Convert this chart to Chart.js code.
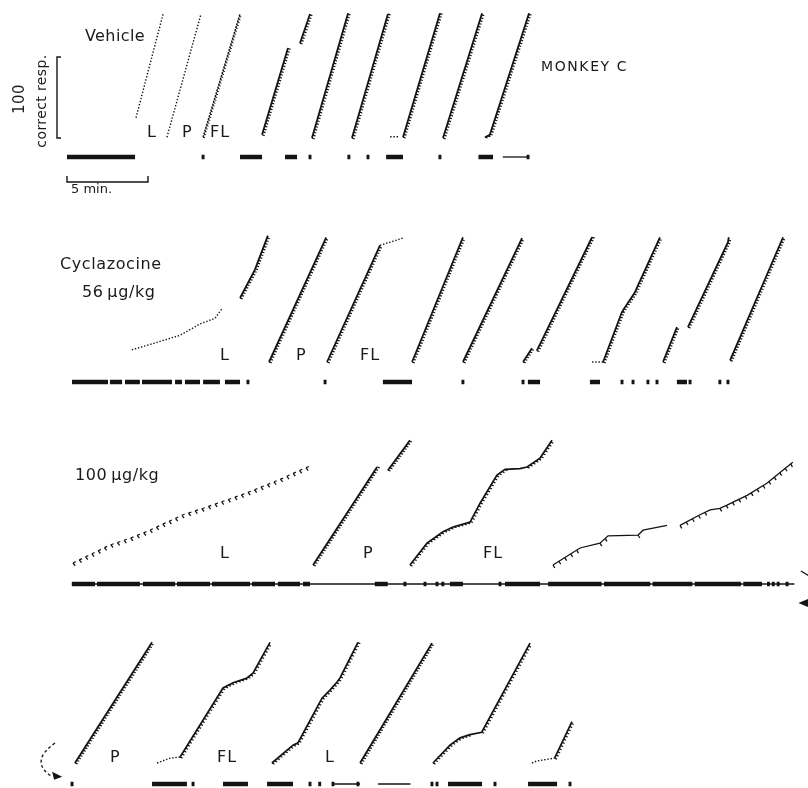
<!DOCTYPE html>
<html>
<head>
<meta charset="utf-8">
<script src="https://cdn.jsdelivr.net/npm/chart.js@4.4.1/dist/chart.umd.min.js"></script>
<style>
  html, body { margin: 0; padding: 0; background: #fff; }
  #wrap { position: relative; width: 808px; height: 788px; overflow: hidden; }
  #rec { position: absolute; left: 0; top: 0; }
  .lbl { position: absolute; font-family: "DejaVu Sans", sans-serif; color: #1a1a1a;
         white-space: nowrap; transform: translateY(-50%); line-height: 1; }
  .rot { position: absolute; font-family: "DejaVu Sans", sans-serif; color: #1a1a1a;
         white-space: nowrap; line-height: 1; transform: translate(-50%, -50%) rotate(-90deg); }
</style>
</head>
<body>
<div id="wrap">
  <canvas id="rec" width="808" height="788"></canvas>
</div>
<script>
// Cumulative records, Monkey C: time in minutes, count in correct responses
// (pen resets to zero at the top of the paper).

// ---- Vehicle ----
const vehicleCurves = [
  [[4.26, 25], [5.93, 153]],
  [[6.17, 1], [8.27, 153]],
  [[8.40, 1], [10.68, 153]],
  [[12.04, 4], [13.64, 111]],
  [[14.38, 117], [15.0, 153]],
  [[15.12, 0], [17.35, 154]],
  [[17.59, 0], [19.81, 153]],
  [[19.95, 1.5], [20.5, 1.5]],
  [[20.74, 1], [23.02, 154]],
  [[23.21, 0], [25.62, 154]],
  [[25.80, 1], [26.1, 4], [28.52, 154]]
];
const vehicleStyles = ['dot', 'dot', 'dense', 'rec', 'rec', 'rec', 'rec', 'dot', 'rec', 'rec', 'rec'];
const vehicleEventBars = [[0, 4.2], [10.68, 12.04], [13.46, 14.2], [19.7, 20.74], [25.4, 26.3]];
const vehicleEventTicks = [8.4, 15.0, 17.4, 18.58, 23.02, 28.46];
const vehicleEventLines = [[26.9, 28.46]];

// ---- Cyclazocine 56 µg/kg ----
const cyc56Curves = [
  [[4.0, 15], [5.43, 23.5], [6.98, 33], [8.21, 47], [9.14, 54], [9.57, 66]],
  [[10.68, 79], [11.6, 114], [12.4, 156]],
  [[12.47, 0], [16.0, 154]],
  [[16.05, 0], [19.32, 144]],
  [[19.32, 144], [20.37, 150.6], [20.74, 153]],
  [[21.3, 0], [24.44, 154]],
  [[24.44, 0], [28.09, 153]],
  [[28.15, 0], [28.7, 17]],
  [[29.0, 14], [29.2, 22], [32.41, 154]],
  [[32.41, 0], [33.09, 0]],
  [[33.09, 0], [34.26, 62], [34.32, 64], [35.06, 86], [35.19, 92], [36.6, 154]],
  [[36.79, 0], [37.65, 43]],
  [[38.33, 43], [40.8, 148], [40.85, 154]],
  [[40.93, 2], [44.2, 154]]
];
const cyc56Styles = ['dot', 'rec', 'rec', 'rec', 'dot', 'rec', 'rec', 'rec', 'rec', 'dot', 'rec', 'rec', 'rec', 'rec'];
const cyc56EventBars = [[0.31, 2.53], [2.65, 3.4], [3.58, 4.5], [4.63, 6.48], [6.67, 7.1], [7.28, 8.21],
  [8.4, 9.44], [9.75, 10.68], [19.5, 21.3], [28.45, 29.2], [32.28, 32.9], [37.65, 38.27]];
const cyc56EventTicks = [11.17, 15.93, 24.44, 28.15, 34.26, 34.94, 35.86, 36.42, 38.46, 40.3, 40.8];
const cyc56EventLines = [];

// ---- Cyclazocine 100 µg/kg ----
const cyc100Curves = [
  [[0.37, 2.5], [2.65, 24.7], [3.89, 33], [5.12, 43], [7.16, 62], [8.4, 70], [10.25, 83],
   [11.1, 89], [13.3, 107], [14.38, 117], [15.12, 123]],
  [[15.19, 0], [19.14, 121]],
  [[19.81, 117], [21.17, 154]],
  [[21.17, 0], [22.22, 27], [23.21, 41], [23.83, 47], [24.88, 53], [25.49, 76], [26.54, 111],
   [27.04, 118], [27.96, 119], [28.4, 121], [29.2, 132], [29.94, 154]],
  [[30.0, 0], [31.67, 21], [32.9, 27], [33.4, 36], [35.25, 37], [35.56, 43], [37.04, 49]],
  [[37.84, 49], [39.07, 62], [39.7, 68], [40.3, 70], [40.74, 74], [41.98, 86], [43.2, 101], [44.8, 127]]
];
const cyc100Styles = ['sparse', 'rec', 'rec', 'step', 'slow', 'slow'];
const cyc100EventBars = [[0.3, 1.73], [1.85, 4.5], [4.69, 6.67], [6.79, 8.83], [8.95, 11.3], [11.42, 12.84],
  [13.02, 14.38], [14.57, 15.0], [19.0, 19.8], [23.64, 24.44], [27.04, 29.2],
  [29.7, 33.0], [33.15, 36.0], [36.15, 38.6], [38.75, 41.6], [41.75, 42.9]];
const cyc100EventTicks = [20.86, 22.1, 22.84, 23.2, 26.73, 43.3, 43.6, 43.9, 44.45];
const cyc100EventLines = [[0.3, 44.9]];

// ---- Cyclazocine 100 µg/kg, continued ----
const contCurves = [
  [[0.49, 0], [5.25, 149]],
  [[5.56, 0], [6.36, 6], [6.98, 7.4]],
  [[6.98, 7.4], [9.63, 92.6], [10.25, 99], [11.11, 105], [11.48, 111], [12.53, 149]],
  [[12.65, 0], [13.95, 22], [14.26, 25], [15.74, 80], [16.23, 90], [16.67, 100], [16.85, 105], [17.96, 149]],
  [[18.09, 0], [22.53, 148]],
  [[22.59, 0], [23.64, 22], [24.26, 31], [24.88, 35], [25.6, 38], [28.58, 148]],
  [[28.7, 0], [29.0, 2.5], [30.1, 6]],
  [[30.1, 6], [31.17, 51]]
];
const contStyles = ['rec', 'dot', 'step', 'step', 'rec', 'step', 'dot', 'step'];
const contEventBars = [[5.25, 7.4], [9.63, 11.17], [12.35, 13.95], [23.52, 25.62], [28.46, 30.25]];
const contEventTicks = [0.31, 7.78, 15.0, 15.6, 16.42, 17.96, 22.53, 22.84, 26.42, 31.05];
const contEventLines = [[16.42, 18.09], [19.2, 21.2]];

// Scale bars
const scaleMinutes = 5;
const scaleResponses = 100;

// ---- layout ----
const W = 808, H = 788;
const PX_PER_MIN = 16.2, PX_PER_RESP = 0.81, ORIGIN_X = 67;
const rowLayout = [
  { base: 138, drop: 19 },
  { base: 362, drop: 20 },
  { base: 565, drop: 19 },
  { base: 763, drop: 21 }
];
const rows = [
  { curves: vehicleCurves, styles: vehicleStyles, bars: vehicleEventBars, ticks: vehicleEventTicks, lines: vehicleEventLines },
  { curves: cyc56Curves, styles: cyc56Styles, bars: cyc56EventBars, ticks: cyc56EventTicks, lines: cyc56EventLines },
  { curves: cyc100Curves, styles: cyc100Styles, bars: cyc100EventBars, ticks: cyc100EventTicks, lines: cyc100EventLines },
  { curves: contCurves, styles: contStyles, bars: contEventBars, ticks: contEventTicks, lines: contEventLines }
];
const rowOffset = r => (H - rowLayout[r].base) / PX_PER_RESP;
const eventLevel = r => rowOffset(r) - rowLayout[r].drop / PX_PER_RESP;

const INK = '#141414';
const curveLook = {
  dot:    { borderWidth: 1.4, borderDash: [1.4, 1.8], hatch: null },
  dense:  { borderWidth: 1.5, borderDash: [2, 1], hatch: { step: 3, dx: 2.0, dy: 0.5, w: 1 } },
  rec:    { borderWidth: 1.8, borderDash: [], hatch: { step: 3, dx: 2.7, dy: 0.8, w: 1.2 } },
  step:   { borderWidth: 1.7, borderDash: [], hatch: { step: 3.5, dx: 2.5, dy: 1.1, w: 1.2 } },
  sparse: { borderWidth: 1.2, borderDash: [3, 4], hatch: { step: 7, dx: 2.2, dy: 2.8, w: 1.3 } },
  slow:   { borderWidth: 1.3, borderDash: [], hatch: { step: 7, dx: 1.8, dy: 3.0, w: 1.3 } }
};

const datasets = [];
rows.forEach((row, r) => {
  const off = rowOffset(r);
  row.curves.forEach((c, i) => {
    const look = curveLook[row.styles[i]];
    datasets.push({
      data: c.map(([t, n]) => ({ x: t, y: n + off })),
      borderColor: INK, borderWidth: look.borderWidth, borderDash: look.borderDash,
      hatch: look.hatch, pointRadius: 0, showLine: true, tension: 0
    });
  });
  const ev = eventLevel(r);
  const segs = (list, half) => {
    const out = [];
    list.forEach(v => {
      const a = Array.isArray(v) ? v[0] : v - half;
      const b = Array.isArray(v) ? v[1] : v + half;
      out.push({ x: a, y: ev }, { x: b, y: ev }, { x: b, y: null });
    });
    return out;
  };
  if (row.lines.length) datasets.push({ data: segs(row.lines), borderColor: INK, borderWidth: 1.3,
    pointRadius: 0, showLine: true, spanGaps: false, borderCapStyle: 'butt' });
  datasets.push({ data: segs(row.bars), borderColor: INK, borderWidth: 4.5,
    pointRadius: 0, showLine: true, spanGaps: false, borderCapStyle: 'butt' });
  datasets.push({ data: segs(row.ticks, 0.09), borderColor: INK, borderWidth: 4.5,
    pointRadius: 0, showLine: true, spanGaps: false, borderCapStyle: 'butt' });
});

// 100-response bracket and 5-minute bar beside the first record
const br = -10 / PX_PER_MIN, brTick = 4 / PX_PER_MIN;
const off0 = rowOffset(0);
datasets.push({
  data: [{ x: br + brTick, y: off0 + scaleResponses }, { x: br, y: off0 + scaleResponses },
         { x: br, y: off0 }, { x: br + brTick, y: off0 }],
  borderColor: INK, borderWidth: 1.4, pointRadius: 0, showLine: true
});
const barY = off0 - 44 / PX_PER_RESP, barTick = 6 / PX_PER_RESP;
datasets.push({
  data: [{ x: 0, y: barY + barTick }, { x: 0, y: barY }, { x: scaleMinutes, y: barY }, { x: scaleMinutes, y: barY + barTick }],
  borderColor: INK, borderWidth: 1.4, pointRadius: 0, showLine: true
});

// reinforcement pips along the records
const hatchPlugin = {
  id: 'hatch',
  afterDatasetsDraw(chart) {
    const ctx = chart.ctx;
    chart.data.datasets.forEach((ds, i) => {
      if (!ds.hatch) return;
      const pts = chart.getDatasetMeta(i).data;
      const h = ds.hatch;
      ctx.save();
      ctx.strokeStyle = INK; ctx.lineWidth = h.w; ctx.setLineDash([]);
      let carry = 0;
      for (let k = 1; k < pts.length; k++) {
        const p0 = pts[k - 1], p1 = pts[k];
        const dx = p1.x - p0.x, dy = p1.y - p0.y;
        const len = Math.hypot(dx, dy);
        // pips only where the pen is climbing
        if (Math.abs(dy) < 0.25 * len) { carry = 0; continue; }
        let s = carry;
        ctx.beginPath();
        for (; s < len; s += h.step) {
          const x = p0.x + dx * s / len, y = p0.y + dy * s / len;
          ctx.moveTo(x, y); ctx.lineTo(x + h.dx, y + h.dy);
        }
        ctx.stroke();
        carry = s - len;
      }
      ctx.restore();
    });
  }
};

// continuation arrows between the third and fourth records
const arrowPlugin = {
  id: 'arrows',
  afterDatasetsDraw(chart) {
    const xs = chart.scales.x, ys = chart.scales.y, ctx = chart.ctx;
    const P = (r, t, n) => [xs.getPixelForValue(t), ys.getPixelForValue(n + rowOffset(r))];
    ctx.save();
    ctx.strokeStyle = INK; ctx.fillStyle = INK; ctx.lineWidth = 1.3;
    // off the right edge of the third record
    let a = P(2, 45.3, -7.4), b = P(2, 45.8, -13.5);
    ctx.beginPath(); ctx.moveTo(a[0], a[1]); ctx.lineTo(b[0], b[1]); ctx.stroke();
    let tip = P(2, 45.15, -47), back = P(2, 45.74, -47);
    ctx.beginPath(); ctx.moveTo(tip[0], tip[1]); ctx.lineTo(back[0], back[1] - 4); ctx.lineTo(back[0], back[1] + 4); ctx.closePath(); ctx.fill();
    // back in at the start of the fourth record
    const s = P(3, -0.74, 24.7), m = P(3, -1.5, 4), e = P(3, -0.3, -17);
    ctx.setLineDash([3, 2.5]);
    ctx.beginPath(); ctx.moveTo(s[0], s[1]);
    ctx.quadraticCurveTo(m[0] - 14, m[1] + 2, e[0] - 10, e[1]);
    ctx.stroke();
    ctx.setLineDash([]);
    ctx.beginPath(); ctx.moveTo(e[0], e[1]); ctx.lineTo(e[0] - 10, e[1] - 5); ctx.lineTo(e[0] - 8, e[1] + 3); ctx.closePath(); ctx.fill();
    ctx.restore();
  }
};

new Chart(document.getElementById('rec'), {
  type: 'scatter',
  data: { datasets },
  options: {
    responsive: false, animation: false, events: [],
    layout: { padding: 0, autoPadding: false },
    plugins: { legend: { display: false }, tooltip: { enabled: false } },
    scales: {
      x: { type: 'linear', display: false, min: -ORIGIN_X / PX_PER_MIN, max: (W - ORIGIN_X) / PX_PER_MIN },
      y: { type: 'linear', display: false, min: 0, max: H / PX_PER_RESP }
    }
  },
  plugins: [hatchPlugin, arrowPlugin]
});

// labels
const labels = [
  ['Vehicle', 85, 36, 16, 0.4],
  ['L', 147, 132, 16, 0], ['P', 182, 132, 16, 0], ['FL', 210, 132, 16, 1],
  ['MONKEY C', 541, 66, 14, 1.6],
  ['5 min.', 71, 188, 13, 0],
  ['Cyclazocine', 60, 264, 16, 0.6],
  ['56\u2009\u03bcg/kg', 82, 292, 16, 0.6],
  ['L', 220, 355, 16, 0], ['P', 296, 355, 16, 0], ['FL', 360, 355, 16, 1],
  ['100\u2009\u03bcg/kg', 75, 475, 16, 0.6],
  ['L', 220, 553, 16, 0], ['P', 363, 553, 16, 0], ['FL', 483, 553, 16, 1],
  ['P', 110, 757, 16, 0], ['FL', 217, 757, 16, 1], ['L', 325, 757, 16, 0]
];
const wrap = document.getElementById('wrap');
labels.forEach(([txt, x, y, size, ls]) => {
  const d = document.createElement('div');
  d.className = 'lbl';
  d.textContent = txt;
  d.style.left = x + 'px'; d.style.top = y + 'px';
  d.style.fontSize = size + 'px'; d.style.letterSpacing = ls + 'px';
  wrap.appendChild(d);
});
[['100', 19, 99, 15, 0.5], ['correct resp.', 41, 101, 14, 0.4]].forEach(([txt, x, y, size, ls]) => {
  const d = document.createElement('div');
  d.className = 'rot';
  d.textContent = txt;
  d.style.left = x + 'px'; d.style.top = y + 'px';
  d.style.fontSize = size + 'px'; d.style.letterSpacing = ls + 'px';
  wrap.appendChild(d);
});
</script>
</body>
</html>
